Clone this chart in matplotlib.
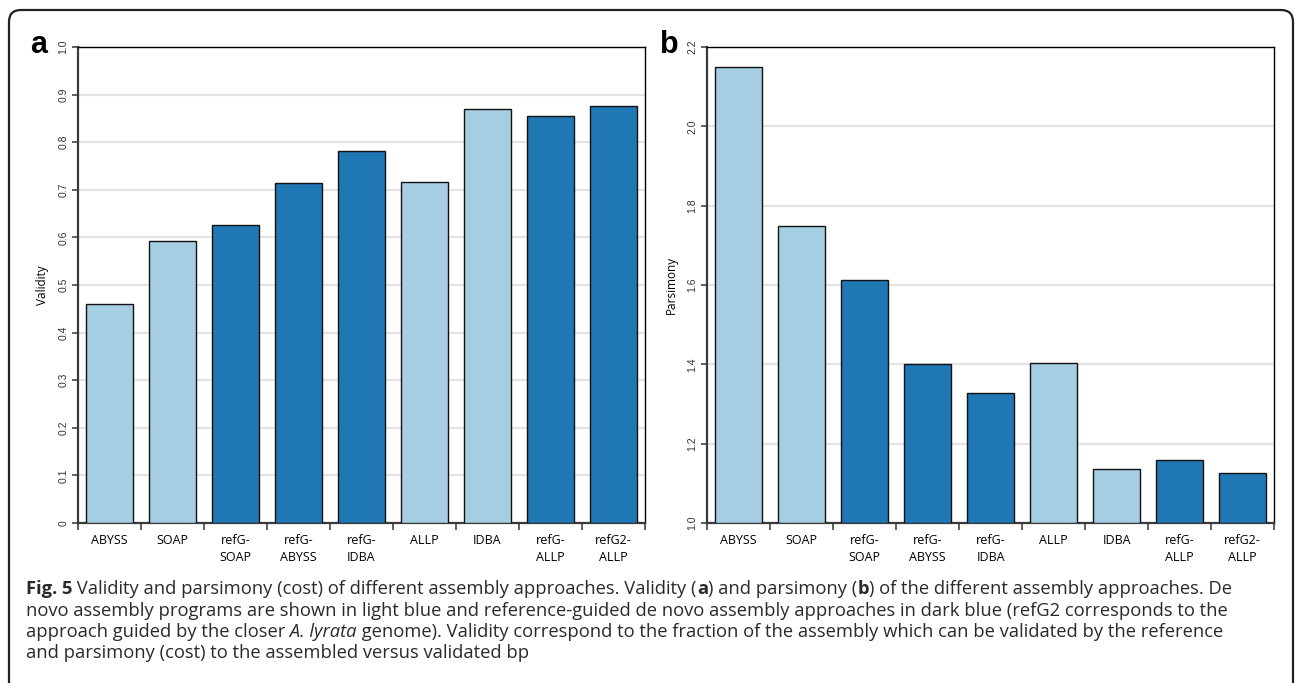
import matplotlib
matplotlib.use("Agg")
from matplotlib import pyplot as plt
from matplotlib.patches import FancyBboxPatch
from matplotlib.transforms import IdentityTransform
from matplotlib.ticker import FixedLocator

# data
methods = ["ABYSS", "SOAP", "refG-\nSOAP", "refG-\nABYSS", "refG-\nIDBA",
           "ALLP", "IDBA", "refG-\nALLP", "refG2-\nALLP"]
guided = [False, False, True, True, True, False, False, True, True]
validity = [0.461, 0.593, 0.626, 0.715, 0.782, 0.717, 0.870, 0.854, 0.876]
parsimony = [2.150, 1.749, 1.613, 1.402, 1.328, 1.404, 1.135, 1.158, 1.126]

light_blue = "#a6cee3"
dark_blue = "#1f78b4"
colors = [dark_blue if g else light_blue for g in guided]

W, H = 1295, 683
fig = plt.figure(figsize=(W / 100, H / 100), dpi=100)


def px_axes(x0, x1, y_top, y_bot):
    return fig.add_axes([x0 / W, 1 - y_bot / H, (x1 - x0) / W, (y_bot - y_top) / H])


def style_axes(ax, values, ylim, yticks, ylabels, ylabel):
    x = range(len(values))
    ax.bar(x, [v - ylim[0] for v in values], bottom=ylim[0], width=0.76,
           color=colors, edgecolor="#111111", linewidth=1.0, zorder=3)
    ax.set_xlim(-0.5, len(values) - 0.5)
    ax.set_ylim(*ylim)
    ax.set_yticks(yticks)
    ax.set_yticklabels(ylabels, rotation=90, va="center",
                       fontsize=7.5, family="Liberation Sans", color="#333333")
    ax.set_xticks(list(x))
    ax.set_xticklabels(methods, fontsize=9, family="Open Sans", linespacing=1.35)
    ax.xaxis.set_minor_locator(FixedLocator([i - 0.5 for i in range(len(values) + 1)]))
    ax.tick_params(axis="x", which="major", length=0, pad=8)
    ax.tick_params(axis="x", which="minor", length=5, width=1.2, color="#444444")
    ax.tick_params(axis="y", length=4, width=1.2, color="#444444", pad=3)
    ax.grid(axis="y", color="#e3e3e3", linewidth=1.5, zorder=0)
    ax.set_axisbelow(True)
    for side in ["left", "bottom"]:
        ax.spines[side].set_color("#3a3a3a")
        ax.spines[side].set_linewidth(1.6)
    for side in ["top", "right"]:
        ax.spines[side].set_color("black")
        ax.spines[side].set_linewidth(1.0)
    ax.set_ylabel(ylabel, fontsize=8.5, family="Open Sans", labelpad=7)


ax_a = px_axes(78, 645, 47, 523)
style_axes(ax_a, validity, (0, 1.0), [i / 10 for i in range(11)],
           ["0"] + ["%.1f" % (i / 10) for i in range(1, 11)], "Validity")

ax_b = px_axes(707, 1274, 47, 523)
style_axes(ax_b, parsimony, (1.0, 2.2), [1.0, 1.2, 1.4, 1.6, 1.8, 2.0, 2.2],
           ["1.0", "1.2", "1.4", "1.6", "1.8", "2.0", "2.2"], "Parsimony")

fig.text(30 / W, 1 - 53 / H, "a", fontsize=22, fontweight="bold",
         family="Liberation Sans", va="baseline")
fig.text(660 / W, 1 - 53 / H, "b", fontsize=22, fontweight="bold",
         family="Liberation Sans", va="baseline")

# rounded frame around the figure, bottom edge cropped off
frame = FancyBboxPatch((9, -30), 1284, 703, boxstyle="round,pad=0,rounding_size=12",
                       transform=IdentityTransform(), fill=False,
                       edgecolor="#222222", linewidth=1.6)
fig.patches.append(frame)

# caption with mixed styles
caption = [
    [("Fig. 5", "bold", "normal"),
     (" Validity and parsimony (cost) of different assembly approaches. Validity (", "normal", "normal"),
     ("a", "bold", "normal"), (") and parsimony (", "normal", "normal"),
     ("b", "bold", "normal"), (") of the different assembly approaches. De", "normal", "normal")],
    [("novo assembly programs are shown in light blue and reference-guided de novo assembly "
      "approaches in dark blue (refG2 corresponds to the", "normal", "normal")],
    [("approach guided by the closer", "normal", "normal"), (" A. lyrata", "normal", "italic"),
     (" genome). Validity correspond to the fraction of the assembly which can be validated by the reference",
      "normal", "normal")],
    [("and parsimony (cost) to the assembled versus validated bp", "normal", "normal")],
]
baselines = [594, 615.5, 637, 658.5]
renderer = fig.canvas.get_renderer()
cap_size = 13.25
for line, yb in zip(caption, baselines):
    x = 26
    for txt, weight, style in line:
        t = fig.text(x / W, 1 - yb / H, txt, fontsize=cap_size, fontweight=weight,
                     style=style, family="Open Sans", color="#2a2a2a", va="baseline")
        bb = t.get_window_extent(renderer)
        x += bb.width

fig.savefig("out.png", dpi=100)
